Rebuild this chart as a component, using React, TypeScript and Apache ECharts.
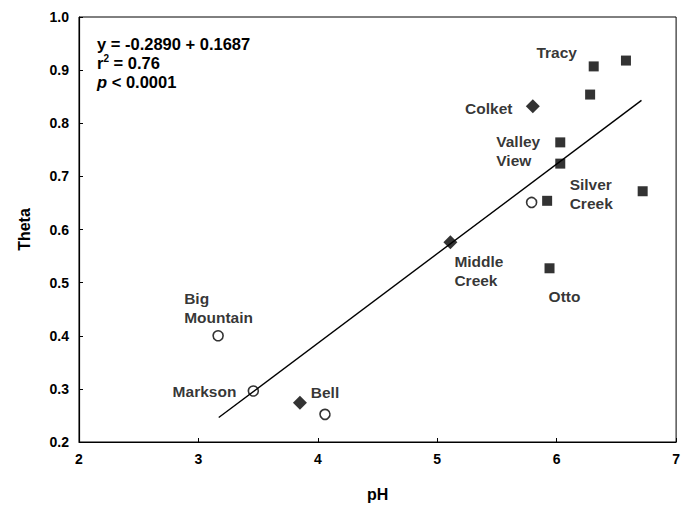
import React, { useEffect, useRef } from "react";
import * as echarts from "echarts";

// Filled squares
const squarePH = [6.31, 6.58, 6.28, 6.03, 6.03, 5.92, 6.72, 5.94];
const squareTheta = [0.907, 0.918, 0.854, 0.764, 0.724, 0.654, 0.672, 0.527];
const squareNames = ["Tracy", "", "", "Valley\nView", "", "", "Silver\nCreek", "Otto"];

// Filled diamonds
const diamondPH = [5.8, 5.11, 3.85];
const diamondTheta = [0.832, 0.576, 0.274];
const diamondNames = ["Colket", "Middle\nCreek", ""];

// Open circles
const circlePH = [3.165, 3.46, 4.06, 5.79];
const circleTheta = [0.4, 0.296, 0.252, 0.651];
const circleNames = ["Big\nMountain", "Markson", "Bell", ""];

// Regression line end points
const fitPH = [3.17, 6.71];
const fitTheta = [0.246, 0.843];

const xTicks = [2, 3, 4, 5, 6, 7];
const yTicks = [0.2, 0.3, 0.4, 0.5, 0.6, 0.7, 0.8, 0.9, 1.0];

const FONT = "'Liberation Sans', Arial, Helvetica, sans-serif";

// label placement (layout only)
const labelLayout: Record<string, { offset: [number, number]; align: string }> = {
  Tracy: { offset: [-37, -14], align: "center" },
  "Valley\nView": { offset: [-64, 9], align: "left" },
  "Silver\nCreek": { offset: [-73, 3], align: "left" },
  Otto: { offset: [15, 28], align: "center" },
  Colket: { offset: [-44, 2], align: "center" },
  "Middle\nCreek": { offset: [4, 29], align: "left" },
  "Big\nMountain": { offset: [-34, -28], align: "left" },
  Markson: { offset: [-17, 0], align: "right" },
  Bell: { offset: [0, -22], align: "center" },
};

function buildData(xs: number[], ys: number[], names: string[]) {
  return xs.map((x, i) => {
    const n = names[i];
    const item: any = { value: [x, ys[i]], name: n };
    if (n && labelLayout[n]) {
      const l = labelLayout[n];
      item.label = {
        show: true,
        position: "inside",
        offset: l.offset,
        align: l.align,
        verticalAlign: "middle",
        formatter: n,
        color: "#000",
        fontFamily: FONT,
        fontSize: 15.5,
        fontWeight: "bold",
        lineHeight: 19,
      };
    }
    return item;
  });
}

export default function App() {
  const ref = useRef<HTMLDivElement>(null);
  useEffect(() => {
    if (!ref.current) return;
    const chart = echarts.init(ref.current, undefined, { renderer: "svg" });
    const axisLabel = {
      color: "#000",
      fontFamily: FONT,
      fontSize: 14,
      fontWeight: "bold",
      margin: 10,
    };
    chart.setOption({
      animation: false,
      backgroundColor: "#fff",
      grid: {
        left: 79,
        right: 4,
        top: 17,
        bottom: 66,
        show: true,
        borderColor: "#000",
        borderWidth: 1,
        backgroundColor: "transparent",
      },
      xAxis: {
        type: "value",
        min: xTicks[0],
        max: xTicks[xTicks.length - 1],
        interval: 1,
        name: "pH",
        nameLocation: "middle",
        nameGap: 44,
        nameTextStyle: { color: "#000", fontFamily: FONT, fontSize: 16, fontWeight: "bold" },
        axisLine: { show: true, lineStyle: { color: "#000", width: 1.2 } },
        axisTick: { show: true, inside: true, length: 4, lineStyle: { color: "#000" } },
        axisLabel: { ...axisLabel, formatter: (v: number) => String(v) },
        splitLine: { show: false },
      },
      yAxis: {
        type: "value",
        min: yTicks[0],
        max: yTicks[yTicks.length - 1],
        interval: 0.1,
        name: "Theta",
        nameLocation: "middle",
        nameGap: 47,
        nameTextStyle: { color: "#000", fontFamily: FONT, fontSize: 16, fontWeight: "bold" },
        axisLine: { show: true, lineStyle: { color: "#000", width: 1.2 } },
        axisTick: { show: true, inside: true, length: 4, lineStyle: { color: "#000" } },
        axisLabel: { ...axisLabel, formatter: (v: number) => v.toFixed(1) },
        splitLine: { show: false },
      },
      series: [
        {
          type: "line",
          data: fitPH.map((x, i) => [x, fitTheta[i]]),
          showSymbol: false,
          symbol: "none",
          lineStyle: { color: "#000", width: 1.4 },
          z: 1,
        },
        {
          type: "scatter",
          symbol: "rect",
          symbolSize: 10,
          itemStyle: { color: "#000" },
          data: buildData(squarePH, squareTheta, squareNames),
          z: 3,
        },
        {
          type: "scatter",
          symbol: "diamond",
          symbolSize: 14,
          itemStyle: { color: "#000" },
          data: buildData(diamondPH, diamondTheta, diamondNames),
          z: 3,
        },
        {
          type: "scatter",
          symbol: "circle",
          symbolSize: 10,
          itemStyle: { color: "rgba(0,0,0,0)", borderColor: "#000", borderWidth: 1.6 },
          data: buildData(circlePH, circleTheta, circleNames),
          z: 3,
        },
      ],
      graphic: [
        {
          type: "text",
          left: 97,
          top: 35,
          style: {
            text: "{n|y = -0.2890 + 0.1687}\n{n|r}{sup|2}{n| = 0.76}\n{i|p}{n| < 0.0001}",
            fill: "#000",
            rich: {
              n: { fontFamily: FONT, fontSize: 16.5, fontWeight: "bold", lineHeight: 19, color: "#000" },
              sup: { fontFamily: FONT, fontSize: 10, fontWeight: "bold", lineHeight: 19, verticalAlign: "top", color: "#000", padding: [0, 0, 6, 0] },
              i: { fontFamily: FONT, fontSize: 16.5, fontWeight: "bold", fontStyle: "italic", lineHeight: 19, color: "#000" },
            },
          },
        },
      ],
    });
    return () => chart.dispose();
  }, []);
  return (
    <div
      ref={ref}
      style={{ position: "fixed", left: 0, top: 0, width: 683, height: 508, background: "#fff" }}
    />
  );
}
